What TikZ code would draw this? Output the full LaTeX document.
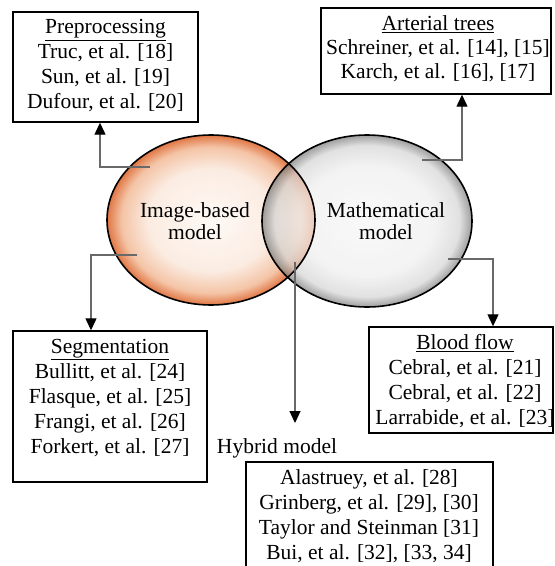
\documentclass[tikz,border=0pt]{standalone}
\usepackage{fontspec}
\setmainfont{Liberation Serif}
\usetikzlibrary{arrows.meta,shapes.geometric}
\definecolor{peachin}{RGB}{254,249,245}
\definecolor{peach}{RGB}{251,236,226}
\definecolor{peachmid}{RGB}{244,196,166}
\definecolor{orangeE}{RGB}{224,118,68}
\definecolor{grayin}{RGB}{246,246,246}
\definecolor{graybody}{RGB}{238,238,238}
\definecolor{graymid}{RGB}{212,212,212}
\definecolor{grayE}{RGB}{118,118,118}
\definecolor{conncol}{RGB}{105,105,105}
\pgfdeclareradialshading{orangeball}{\pgfpointorigin}{color(0bp)=(peachin); color(15bp)=(peach); color(21.5bp)=(peachmid); color(25bp)=(orangeE); color(50bp)=(orangeE)}
\pgfdeclareradialshading{grayball}{\pgfpointorigin}{color(0bp)=(grayin); color(16bp)=(graybody); color(22bp)=(graymid); color(25bp)=(grayE); color(50bp)=(grayE)}
\tikzset{
  refbox/.style={draw=black, line width=1.4bp, rectangle, inner sep=0pt},
  reftext/.style={align=center, inner sep=0pt, font=\fontsize{21.5bp}{25bp}\selectfont},
  conn/.style={draw=conncol, line width=1.2bp, -{Triangle[length=12bp,width=11bp,color=black,fill=black]}},
  ellout/.style={draw=black, line width=1.6bp},
}
\begin{document}
\begin{tikzpicture}[x=1bp,y=-1bp]
\useasboundingbox (0,0) rectangle (555,566);
\clip (0,0) rectangle (555,566);
% ellipses
\node[ellipse, minimum width=208bp, minimum height=170bp, inner sep=0pt, shade, shading=orangeball] (img) at (211,220) {};
\node[ellipse, minimum width=210bp, minimum height=172bp, inner sep=0pt, shade, shading=grayball, fill opacity=0.7] (math) at (367,221) {};
\draw[ellout] (img.center) ellipse [x radius=104bp, y radius=85bp];
\draw[ellout] (math.center) ellipse [x radius=105bp, y radius=86bp];
\node[reftext, font=\fontsize{21.5bp}{22bp}\selectfont] (imgtext) at (195,221) {Image-based\\model};
\node[reftext, font=\fontsize{21.5bp}{22bp}\selectfont] (mathtext) at (386,221) {Mathematical\\model};
% boxes
\node[refbox, minimum width=185bp, minimum height=110bp] (pre) at (105.5,67) {};
\node[reftext] (pretext) at (105.5,66) {\underline{Preprocessing}\\Truc, et al. [18]\\Sun, et al. [19]\\Dufour, et al. [20]};
\node[refbox, minimum width=230bp, minimum height=86bp] (art) at (436,51) {};
\node[reftext, font=\fontsize{21.5bp}{24bp}\selectfont] (arttext) at (438,49) {\underline{Arterial trees}\\Schreiner, et al. [14], [15]\\Karch, et al. [16], [17]};
\node[refbox, minimum width=194bp, minimum height=151bp] (seg) at (110,406.5) {};
\node[reftext] (segtext) at (110,398) {\underline{Segmentation}\\Bullitt, et al. [24]\\Flasque, et al. [25]\\Frangi, et al. [26]\\Forkert, et al. [27]};
\node[refbox, minimum width=184bp, minimum height=106bp] (blood) at (461,380) {};
\node[reftext] (bloodtext) at (465,381) {\underline{Blood flow}\\Cebral, et al. [21]\\Cebral, et al. [22]\\Larrabide, et al. [23]};
\node[reftext] (hyblabel) at (277,448) {Hybrid model};
\node[refbox, minimum width=247bp, minimum height=140bp] (hyb) at (369.5,532) {};
\node[reftext] (hybtext) at (369,516) {Alastruey, et al. [28]\\Grinberg, et al. [29], [30]\\Taylor and Steinman [31]\\Bui, et al. [32], [33, 34]};
% connectors
\coordinate (c1) at (150,167); \coordinate (c1b) at (100,167);
\draw[conn] (c1) -- (c1b) -- (c1b |- pre.south);
\coordinate (c2) at (422,160); \coordinate (c2b) at (462,160);
\draw[conn] (c2) -- (c2b) -- (c2b |- art.south);
\coordinate (c3) at (137,255); \coordinate (c3b) at (91,255);
\draw[conn] (c3) -- (c3b) -- (c3b |- seg.north);
\coordinate (c4) at (448,259); \coordinate (c4b) at (493,259);
\draw[conn] (c4) -- (c4b) -- (c4b |- blood.north);
\coordinate (c5) at (295,262); \coordinate (c5e) at (295,423);
\draw[conn] (c5) -- (c5e);
\end{tikzpicture}
\end{document}
